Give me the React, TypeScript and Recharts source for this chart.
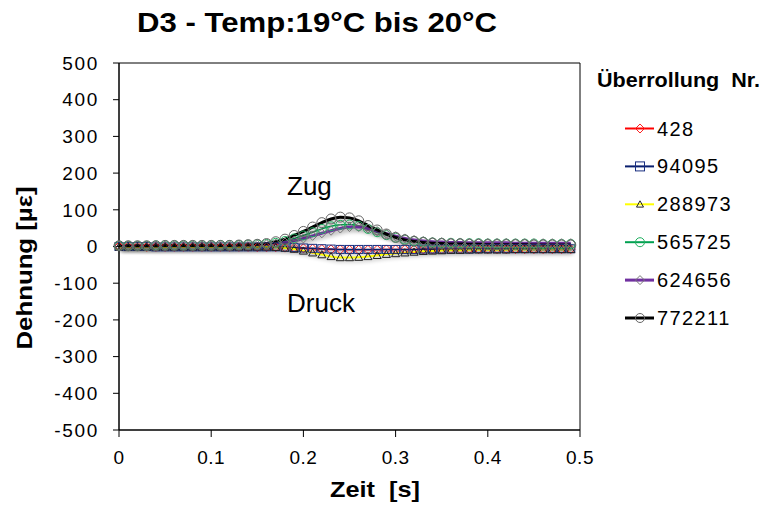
import React from "react";
import { LineChart, Line, XAxis, YAxis, ReferenceArea } from "recharts";

// Zeitachse [s], ein Messpunkt alle 10 ms
const time = [
  0, 0.01, 0.02, 0.03, 0.04, 0.05, 0.06, 0.07, 0.08, 0.09,
  0.1, 0.11, 0.12, 0.13, 0.14, 0.15, 0.16, 0.17, 0.18, 0.19,
  0.2, 0.21, 0.22, 0.23, 0.24, 0.25, 0.26, 0.27, 0.28, 0.29,
  0.3, 0.31, 0.32, 0.33, 0.34, 0.35, 0.36, 0.37, 0.38, 0.39,
  0.4, 0.41, 0.42, 0.43, 0.44, 0.45, 0.46, 0.47, 0.48, 0.49,
];

// Dehnung [µε] je Überrollung
const ue428 = [
  0, 0, 0, -1, -1, -1, -1, -1, -1, -1,
  -1, -1, -1, -1, -1, -2, -2, -2, -3, -4,
  -5, -6, -7, -8, -8, -9, -9, -9, -9, -8,
  -8, -8, -8, -8, -8, -8, -7, -7, -7, -7,
  -7, -7, -7, -7, -7, -7, -7, -7, -7, -7,
];
const ue94095 = [
  0, 0, 0, 0, -1, -1, -1, -1, -1, -1,
  -1, -1, -1, -1, -1, -1, -1, -1, -2, -3,
  -4, -5, -6, -7, -8, -8, -8, -8, -8, -8,
  -8, -8, -8, -7, -7, -7, -7, -7, -7, -6,
  -6, -6, -6, -6, -6, -6, -6, -6, -6, -6,
];
const ue288973 = [
  -1, -1, -1, -1, -1, -1, -1, -1, -1, -1,
  -1, -1, -1, -1, -1, -1, -1, -2, -4, -7,
  -12, -17, -22, -27, -30, -30, -29, -27, -24, -21,
  -19, -17, -15, -13, -12, -11, -10, -10, -9, -9,
  -9, -9, -9, -8, -8, -8, -8, -8, -8, -8,
];
const ue565725 = [
  2, 2, 2, 2, 3, 3, 3, 3, 3, 3,
  3, 4, 4, 4, 5, 6, 7, 10, 15, 22,
  30, 39, 48, 55, 59, 60, 56, 48, 39, 31,
  24, 19, 15, 13, 11, 10, 10, 9, 9, 9,
  8, 8, 8, 8, 8, 8, 7, 7, 7, 7,
];
const ue624656 = [
  3, 3, 3, 3, 3, 3, 3, 3, 3, 3,
  3, 3, 3, 4, 4, 5, 6, 8, 11, 16,
  22, 29, 36, 43, 49, 53, 53, 49, 42, 35,
  28, 22, 18, 15, 13, 12, 11, 11, 10, 10,
  10, 10, 10, 9, 9, 9, 9, 9, 9, 9,
];
const ue772211 = [
  2, 2, 2, 2, 2, 3, 3, 3, 3, 3,
  3, 3, 3, 4, 5, 6, 8, 13, 20, 30,
  41, 53, 65, 75, 80, 78, 70, 57, 45, 34,
  25, 18, 14, 11, 9, 8, 7, 7, 6, 6,
  5, 5, 5, 5, 5, 4, 4, 4, 4, 4,
];

const xTicks = [0, 0.1, 0.2, 0.3, 0.4, 0.5];
const yTicks = [-500, -400, -300, -200, -100, 0, 100, 200, 300, 400, 500];

const rows = time.map((t, i) => ({
  t,
  s428: ue428[i],
  s94095: ue94095[i],
  s288973: ue288973[i],
  s565725: ue565725[i],
  s624656: ue624656[i],
  s772211: ue772211[i],
}));

type Shape = "diamond" | "square" | "triangle" | "circle";

const series: {
  key: string;
  name: string;
  color: string;
  width: number;
  shape: Shape;
  markStroke: string;
  r: number;
}[] = [
  { key: "s428", name: "428", color: "#ff0000", width: 1.5, shape: "diamond", markStroke: "#ff2020", r: 4.5 },
  { key: "s94095", name: "94095", color: "#0a1f6e", width: 1.5, shape: "square", markStroke: "#1a2f80", r: 4 },
  { key: "s288973", name: "288973", color: "#ffff00", width: 2, shape: "triangle", markStroke: "#222", r: 4 },
  { key: "s565725", name: "565725", color: "#00a050", width: 1.5, shape: "circle", markStroke: "#20b060", r: 4.5 },
  { key: "s624656", name: "624656", color: "#7030a0", width: 3, shape: "diamond", markStroke: "#777", r: 4.5 },
  { key: "s772211", name: "772211", color: "#000000", width: 3, shape: "circle", markStroke: "#666", r: 5 },
];

const FONT = '"Liberation Sans", Arial, sans-serif';

function marker(shape: Shape, cx: number, cy: number, r: number, stroke: string, key?: string | number) {
  const common = { key, fill: "none", stroke, strokeWidth: 1 };
  if (shape === "diamond")
    return <polygon {...common} points={`${cx},${cy - r} ${cx + r},${cy} ${cx},${cy + r} ${cx - r},${cy}`} />;
  if (shape === "square")
    return <rect {...common} x={cx - r} y={cy - r} width={2 * r} height={2 * r} />;
  if (shape === "triangle")
    return <polygon {...common} points={`${cx},${cy - r} ${cx + r},${cy + r * 0.8} ${cx - r},${cy + r * 0.8}`} />;
  return <circle {...common} cx={cx} cy={cy} r={r} />;
}

// Legende rechts neben dem Diagramm
const LegendBox = () => (
  <g transform="translate(620,108)">
    {series.map((s, i) => {
      const cy = 20.5 + i * 37.9;
      return (
        <g key={s.key}>
          <line x1={5} x2={34} y1={cy} y2={cy} stroke={s.color} strokeWidth={s.width === 3 ? 3 : 2} />
          {marker(s.shape, 20, cy, s.shape === "triangle" ? 3.5 : 4.5, s.markStroke)}
          <text x={37} y={cy + 7} fontSize={20} letterSpacing={1.4} fill="#000">
            {s.name}
          </text>
        </g>
      );
    })}
  </g>
);

export default function App() {
  return (
    <div style={{ position: "absolute", left: 0, top: 0, width: 766, height: 506, background: "#fff" }}>
      <style>{`.recharts-line { filter: drop-shadow(2px 3px 2px rgba(0,0,0,0.35)); }`}</style>
      <LineChart width={766} height={506} data={rows} margin={{ top: 63, right: 186, bottom: 0, left: 0 }}>
        <ReferenceArea x1={0} x2={0.5} y1={-500} y2={500} fill="none" stroke="#000" strokeWidth={1} ifOverflow="visible" />
        <XAxis
          dataKey="t"
          type="number"
          domain={[0, 0.5]}
          ticks={xTicks}
          height={76}
          tickSize={7}
          tickMargin={14}
          axisLine={{ stroke: "#000" }}
          tickLine={{ stroke: "#000" }}
          tick={{ fill: "#000", fontSize: 19, fontFamily: FONT, letterSpacing: 0.5 }}
        />
        <YAxis
          type="number"
          domain={[-500, 500]}
          ticks={yTicks}
          interval={0}
          width={119}
          tickSize={6}
          tickMargin={14}
          axisLine={{ stroke: "#000" }}
          tickLine={{ stroke: "#000" }}
          tick={{ fill: "#000", fontSize: 19, fontFamily: FONT, letterSpacing: 1.7 }}
        />
        {series.map((s) => (
          <Line
            key={s.key}
            dataKey={s.key}
            name={s.name}
            type="monotone"
            stroke={s.color}
            strokeWidth={s.width}
            isAnimationActive={false}
            dot={(p: any) => marker(s.shape, p.cx, p.cy, s.r, s.markStroke, p.index)}
            activeDot={false}
          />
        ))}
      </LineChart>
      <svg
        width={766}
        height={506}
        style={{ position: "absolute", left: 0, top: 0, pointerEvents: "none" }}
        fontFamily={FONT}
      >
        <text x={137} y={32} fontSize={28} fontWeight="bold" textLength={360} lengthAdjust="spacingAndGlyphs">
          D3 - Temp:19°C bis 20°C
        </text>
        <text x={597} y={87} fontSize={20} fontWeight="bold" textLength={163} lengthAdjust="spacingAndGlyphs" xmlSpace="preserve">
          Überrollung  Nr.
        </text>
        <LegendBox />
        <text x={287} y={195} fontSize={26}>Zug</text>
        <text x={287} y={312} fontSize={26}>Druck</text>
        <text
          transform="translate(32,268) rotate(-90)"
          textAnchor="middle"
          fontSize={22}
          fontWeight="bold"
          textLength={163}
          lengthAdjust="spacingAndGlyphs"
        >
          Dehnung [µε]
        </text>
        <text x={330} y={497} fontSize={22} fontWeight="bold" textLength={90} lengthAdjust="spacingAndGlyphs" xmlSpace="preserve">
          Zeit  [s]
        </text>
      </svg>
    </div>
  );
}
